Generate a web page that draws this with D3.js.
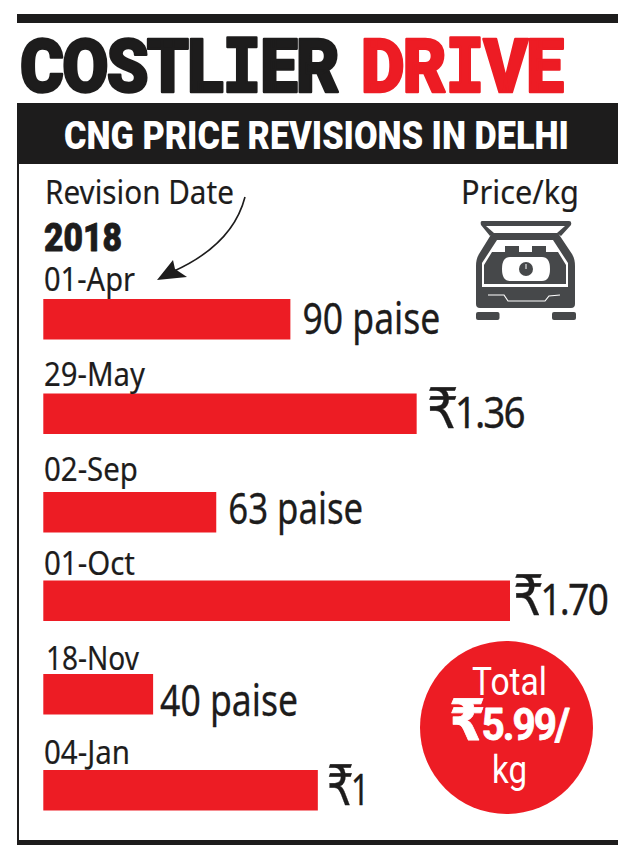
<!DOCTYPE html>
<html>
<head>
<meta charset="utf-8">
<title>CNG price revisions in Delhi</title>
<script src="https://cdn.jsdelivr.net/npm/d3@7/dist/d3.min.js"></script>
<style>
html,body{margin:0;padding:0;background:#fff;}
svg{display:block;}
</style>
</head>
<body>
<svg id="chart" width="635" height="856"></svg>
<script>
// Revision dates and the price rise per kg (rupees) at each revision
const dates = ["01-Apr", "29-May", "02-Sep", "01-Oct", "18-Nov", "04-Jan"];
const rises = [0.90, 1.36, 0.63, 1.70, 0.40, 1.00];
const valueLabels = ["90 paise", "₹1.36", "63 paise", "₹1.70", "40 paise", "₹1"];
const rows = d3.range(dates.length);

// Hand-set row layout: the graphic's rows are not evenly spaced
const barTops = [299, 393.5, 492, 580.5, 674, 770];
const dateBaselines = [291, 386, 481, 575, 670, 764];
const dateWidths = [91, 101, 94, 91, 93, 86];
const dateLefts = [44, 44, 44, 44, 46, 44];
const valueGaps = [12, 10, 12, 3, 7, 9];
const valueWidths = [138, 97, 135, 94, 138, 41];
const valueBaselines = [334, 428, 524, 615, 716, 805];

const INK = "#1d1c1c", RED = "#ed1c24", GREY = "#46484a";
const BODY = "'Noto Sans','Liberation Sans',sans-serif";
const HEAVY = "Roboto,'Liberation Sans',sans-serif";
const SLAB = "'DejaVu Sans Mono',monospace";
const RUPEE = "'DejaVu Sans',sans-serif";
const BAR_H = 40.5;

const svg = d3.select("#chart");

const x = d3.scaleLinear().domain([0, 1.7]).range([43.3, 510]);

// Places text so that it spans an exact width by scaling it horizontally
function fitted(parent, str, px, baseline, width, size, opts = {}) {
  const t = parent.append("text")
    .attr("font-family", opts.family || BODY)
    .attr("font-size", size)
    .attr("font-weight", opts.weight || 400)
    .attr("letter-spacing", opts.tracking || 0)
    .attr("fill", opts.fill || INK)
    .attr("stroke", opts.stroke || "none")
    .attr("stroke-width", opts.strokeWidth || 0)
    .attr("stroke-linejoin", "round")
    .attr("vector-effect", "non-scaling-stroke");
  // The rupee sign sits larger than the digits after it; slab capitals use their own face
  for (const ch of (opts.splitRupee ? [str.slice(0, 1), str.slice(1)] : opts.slabI ? str.split(/(I)/).filter(Boolean) : [str])) {
    const span = t.append("tspan").text(ch);
    if (opts.splitRupee && ch === "₹") span.attr("font-size", size * 1.3).attr("font-family", RUPEE).attr("letter-spacing", -0.1 * size);
    if (opts.splitRupee && ch !== "₹") span.attr("letter-spacing", -0.05 * size);
    if (opts.slabI && ch === "I") span.attr("font-family", SLAB).attr("font-weight", 700);
  }
  const natural = t.node().getComputedTextLength();
  t.attr("transform", `translate(${px},${baseline}) scale(${width / natural},1)`);
  return t;
}
const fittedValue = (str, px, baseline, width) =>
  fitted(svg, str, px, baseline, width, 43, {splitRupee: str.startsWith("₹"), stroke: INK, strokeWidth: 0.3});

// Frame: top rule, header band, left rule, bottom rule
svg.append("rect").attr("x", 17).attr("y", 14).attr("width", 601).attr("height", 9).attr("fill", INK);
svg.append("rect").attr("x", 17).attr("y", 103).attr("width", 601).attr("height", 61).attr("fill", INK);
svg.append("rect").attr("x", 17).attr("y", 164).attr("width", 2).attr("height", 680).attr("fill", INK);
svg.append("rect").attr("x", 17).attr("y", 840).attr("width", 601).attr("height", 5).attr("fill", INK);

// Headline
fitted(svg, "COSTLIER", 20, 91.5, 318, 74, {family: HEAVY, weight: 900, stroke: INK, strokeWidth: 2.5, slabI: true, tracking: -2});
fitted(svg, "DRIVE", 361, 91.5, 201, 74, {family: HEAVY, weight: 900, fill: RED, stroke: RED, strokeWidth: 2.5, slabI: true, tracking: -2});

// Sub-headline
fitted(svg, "CNG PRICE REVISIONS IN DELHI", 64, 149, 505, 38, {family: HEAVY, weight: 900, fill: "#fff"});

// Column captions
fitted(svg, "Revision Date", 45, 204, 189, 33, {stroke: INK, strokeWidth: 0.2});
fitted(svg, "Price/kg", 461, 204, 118, 33, {stroke: INK, strokeWidth: 0.2});
fitted(svg, "2018", 44, 251, 78, 38, {family: HEAVY, weight: 900, stroke: INK, strokeWidth: 0.8});

// Curved arrow from the caption down to the first date
svg.append("path")
  .attr("d", "M245,197 C236,232 208,256 172,272")
  .attr("fill", "none").attr("stroke", INK).attr("stroke-width", 1.6);
svg.append("path")
  .attr("d", "M157,280 L173,260 L175,269 L187,277 Z")
  .attr("fill", INK);

// Price bars
svg.append("g").selectAll("rect").data(rows).join("rect")
  .attr("x", x(0))
  .attr("y", i => barTops[i])
  .attr("width", i => x(rises[i]) - x(0))
  .attr("height", BAR_H)
  .attr("fill", RED);

// Date above each bar, value to the right of it
rows.forEach(i => {
  fitted(svg, dates[i], dateLefts[i], dateBaselines[i], dateWidths[i], 33, {stroke: INK, strokeWidth: 0.2});
  fittedValue(valueLabels[i], x(rises[i]) + valueGaps[i], valueBaselines[i], valueWidths[i]);
});

// Total badge
svg.append("circle").attr("cx", 506.5).attr("cy", 727.5).attr("r", 86.5).attr("fill", RED);
fitted(svg, "Total", 472, 695, 75, 39, {family: HEAVY, fill: "#fff"});
fitted(svg, "₹5.99/", 449, 740, 119, 44, {family: HEAVY, fill: "#fff", stroke: "#fff", strokeWidth: 0.8, weight: 700, splitRupee: true});
fitted(svg, "kg", 492, 783, 35, 38, {family: HEAVY, fill: "#fff"});

// Car boot with a gas cylinder
const car = svg.append("g").attr("fill", GREY);
car.append("path").attr("d", "M482,221 H569 Q572,221 571,225 L561,236 L557,233 L565,226 H486 L494,233 L490,236 L481,225 Q480,221 482,221 Z");
car.append("path").attr("fill-rule", "evenodd").attr("d",
  "M492,233 H558 L572,254 Q575,259 575,266 V304 Q575,308 571,308 H480 Q476,308 476,304 V266 Q476,259 479,254 Z " +
  "M497,240 L482,263 V287 H568 V263 L553,240 Z");
car.append("path").attr("fill-rule", "evenodd").attr("d",
  "M505,246 V252 H492 L484,265 V284 H566 V265 L558,252 H546 V246 H532 V252 H519 V246 Z " +
  "M510,257 Q502,257 502,269 Q502,281 510,281 H542 Q550,281 550,269 Q550,257 542,257 Z");
car.append("circle").attr("cx", 526).attr("cy", 269).attr("r", 7);
car.append("path").attr("d", "M526,264 V269").attr("stroke", "#fff").attr("stroke-width", 1);
car.append("path").attr("d", "M488,295 H504 L508,301 H545 L549,296 L560,295").attr("fill", "none").attr("stroke", "#fff").attr("stroke-width", 1.2);
car.append("rect").attr("x", 476).attr("y", 312).attr("width", 23.5).attr("height", 8).attr("rx", 2);
car.append("rect").attr("x", 552).attr("y", 312).attr("width", 24).attr("height", 8).attr("rx", 2);
</script>
</body>
</html>
